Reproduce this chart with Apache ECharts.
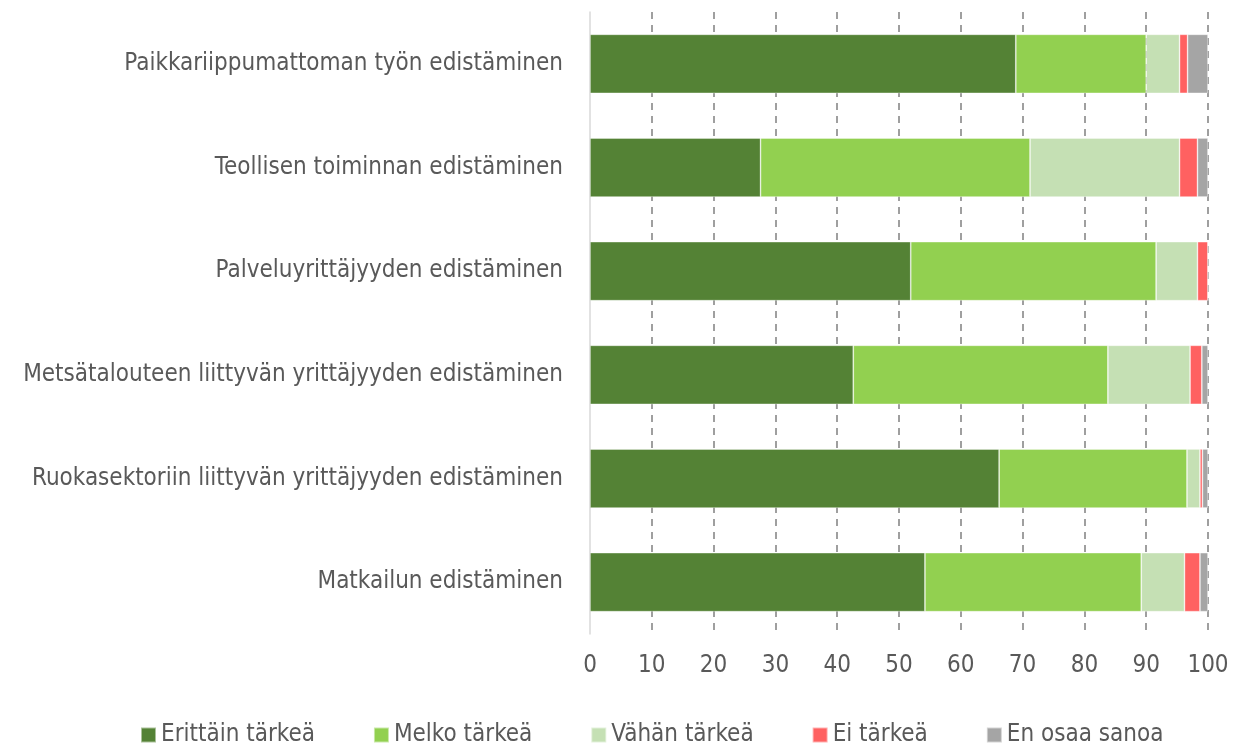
<!DOCTYPE html>
<html>
<head>
<meta charset="utf-8">
<script src="https://cdn.jsdelivr.net/npm/echarts@6/dist/echarts.min.js"></script>
<style>
  html, body { margin: 0; padding: 0; background: #fff; }
  #chart { width: 1253px; height: 744px; }
</style>
</head>
<body>
<div id="chart"></div>
<script>
// kategoriat ylhäältä alas
var categories = [
  "Paikkariippumattoman työn edistäminen",
  "Teollisen toiminnan edistäminen",
  "Palveluyrittäjyyden edistäminen",
  "Metsätalouteen liittyvän yrittäjyyden edistäminen",
  "Ruokasektoriin liittyvän yrittäjyyden edistäminen",
  "Matkailun edistäminen"
];
var erittainTarkea = [68.9, 27.6, 51.9, 42.6, 66.2, 54.2];
var melkoTarkea = [21.1, 43.6, 39.7, 41.2, 30.4, 35.0];
var vahanTarkea = [5.4, 24.2, 6.7, 13.3, 2.1, 7.0];
var eiTarkea = [1.3, 2.9, 1.7, 1.9, 0.4, 2.5];
var enOsaaSanoa = [3.3, 1.7, 0, 1.0, 0.9, 1.3];

var seriesNames = ["Erittäin tärkeä", "Melko tärkeä", "Vähän tärkeä", "Ei tärkeä", "En osaa sanoa"];
var seriesData = [erittainTarkea, melkoTarkea, vahanTarkea, eiTarkea, enOsaaSanoa];
var colors = ["#548235", "#92d050", "#c5e0b4", "#ff6161", "#a5a5a5"];

var font = "'DejaVu Sans Condensed', 'DejaVu Sans', sans-serif";

var myChart = echarts.init(document.getElementById("chart"));

var series = seriesNames.map(function (name, i) {
  return {
    name: name,
    type: "bar",
    stack: "total",
    barWidth: 59,
    itemStyle: { color: colors[i], borderColor: "rgba(255,255,255,0.5)", borderWidth: 0.75 },
    data: seriesData[i]
  };
});

myChart.setOption({
  animation: false,
  backgroundColor: "#fff",
  color: colors,
  grid: { left: 590, right: 45, top: 12, bottom: 110, outerBoundsMode: "none", containLabel: false },
  legend: {
    data: seriesNames,
    left: 140,
    top: 721,
    padding: 0,
    icon: "rect",
    itemWidth: 15,
    itemHeight: 15,
    itemGap: 58,
    textStyle: { fontFamily: font, fontSize: 24, color: "#595959", lineHeight: 28 }
  },
  xAxis: {
    type: "value",
    min: 0,
    max: 100,
    interval: 10,
    axisLine: { show: false },
    axisTick: { show: false },
    axisLabel: { margin: 20, fontFamily: font, fontSize: 24, color: "#595959" },
    splitLine: {
      show: true,
      showMinLine: false,
      lineStyle: { color: "#808080", width: 1.5, type: [7, 6] }
    }
  },
  yAxis: {
    type: "category",
    inverse: true,
    data: categories,
    axisLine: { show: true, lineStyle: { color: "#d9d9d9", width: 1.5 } },
    axisTick: { show: false },
    axisLabel: { margin: 27, fontFamily: font, fontSize: 24, color: "#595959" }
  },
  series: series
});
</script>
</body>
</html>
